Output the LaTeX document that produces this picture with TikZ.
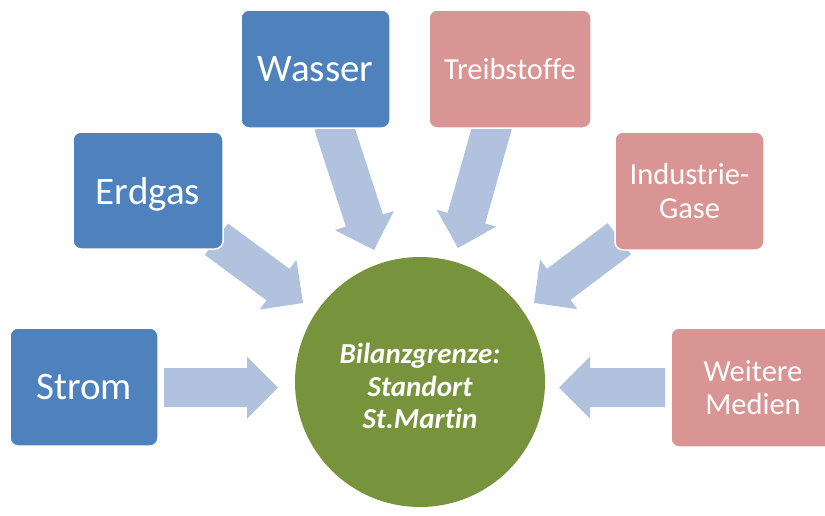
\documentclass[tikz,border=0pt]{standalone}
\usepackage{fontspec}
\setmainfont{Carlito}[RawFeature={-liga;-clig;-dlig}]
\usetikzlibrary{calc}

\definecolor{boxblue}{HTML}{4F81BD}
\definecolor{boxpink}{HTML}{D99594}
\definecolor{flowblue}{HTML}{B0C2DE}
\definecolor{sitegreen}{HTML}{77933C}

% block arrow from a tail coordinate to a tip coordinate
\newcommand\flowarrow[2]{%
  \coordinate (#1-hb) at ($(#2)!31pt!(#1)$);
  \fill[flow]
    ($(#1)!19.5pt!90:(#2)$) --
    ($(#1-hb)!19.5pt!90:(#2)$) --
    ($(#1-hb)!31pt!90:(#2)$) --
    (#2) --
    ($(#1-hb)!31pt!-90:(#2)$) --
    ($(#1-hb)!19.5pt!-90:(#2)$) --
    ($(#1)!19.5pt!-90:(#2)$) -- cycle;
}

\tikzset{
  inbox/.style={rectangle, rounded corners=8pt, draw=white, line width=1.5pt,
    text=white, align=center, inner sep=0pt, text depth=0pt},
  bluebox/.style={inbox, fill=boxblue, font=\fontsize{39}{42}\selectfont},
  pinkbox/.style={inbox, fill=boxpink, font=\fontsize{30.5}{33.5}\selectfont},
  flow/.style={fill=flowblue},
  site/.style={circle, fill=sitegreen, minimum size=250pt, inner sep=0pt},
  sitetext/.style={text=white, align=center,
    font=\fontsize{29}{32.5}\selectfont\bfseries\itshape}
}

\begin{document}
\begin{tikzpicture}[x=1pt, y=-1pt]
  \useasboundingbox (0,0) rectangle (825,515);
  \clip (0,0) rectangle (825,515);

  % arrow ends
  \coordinate (stromT) at (164,387.5);  \coordinate (stromP) at (278,387.5);
  \coordinate (erdT)   at (216.4,239.2); \coordinate (erdP)   at (303,303);
  \coordinate (wasT)   at (333,124);    \coordinate (wasP)   at (374,250);
  \coordinate (treibT) at (493,124);    \coordinate (treibP) at (458,248);
  \coordinate (indT)   at (619.3,238.7); \coordinate (indP)  at (534,303);
  \coordinate (weitT)  at (665,387.5);  \coordinate (weitP)  at (559,387.5);

  \flowarrow{stromT}{stromP}
  \flowarrow{erdT}{erdP}
  \flowarrow{wasT}{wasP}
  \flowarrow{treibT}{treibP}
  \flowarrow{indT}{indP}
  \flowarrow{weitT}{weitP}

  % supply boxes
  \node[bluebox, minimum width=148pt, minimum height=118pt] (strom) at (84,387) {Strom};
  \node[bluebox, minimum width=150pt, minimum height=117pt] (erdgas) at (148,190.5) {Erdgas};
  \node[bluebox, minimum width=149pt, minimum height=118pt] (wasser) at (315.5,69) {Wasser};
  \node[pinkbox, minimum width=162pt, minimum height=118pt] (treib) at (510,69) {Treibstoffe};
  \node[pinkbox, minimum width=149pt, minimum height=118pt] (indgas) at (689.5,191) {Industrie-\\Gase};
  \node[pinkbox, minimum width=164pt, minimum height=119pt] (weitere) at (753,387.5) {Weitere\\Medien};

  % balance boundary
  \node[site] (standort) at (420,382) {};
  \node[sitetext] (standortlabel) at (420,386) {Bilanzgrenze:\\Standort\\St.Martin};
\end{tikzpicture}
\end{document}
